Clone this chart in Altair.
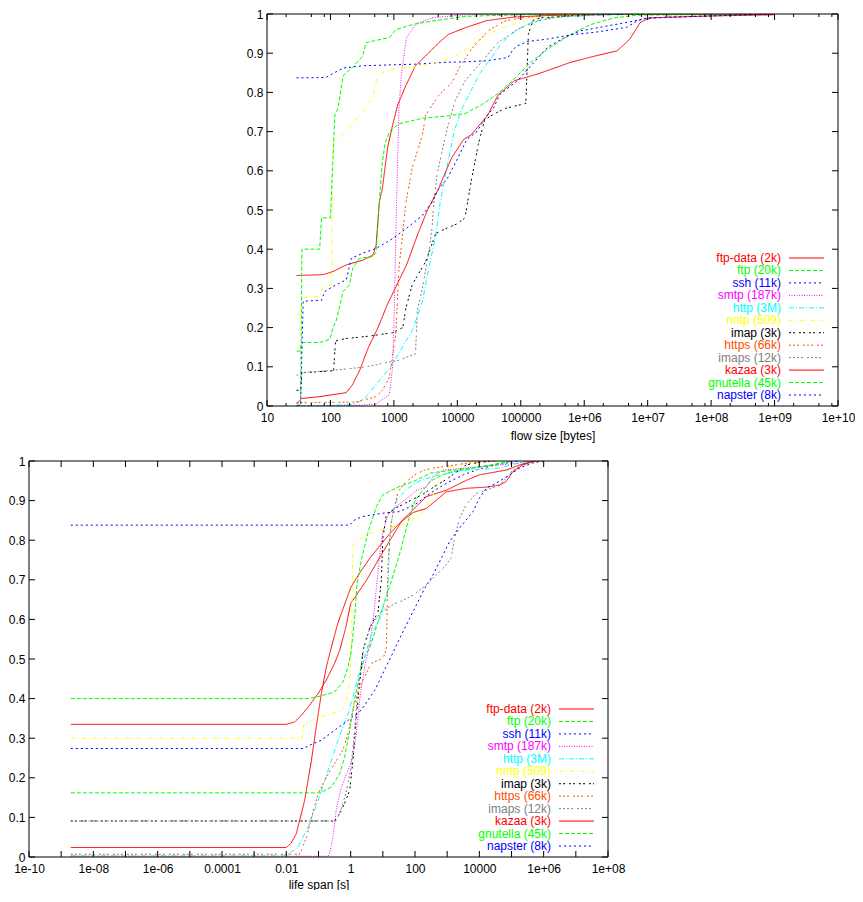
import altair as alt
import pandas as pd

FONT = "Liberation Sans"

SERIES = ["ftp-data (2k)", "ftp (20k)", "ssh (11k)", "smtp (187k)", "http (3M)", "nntp (509)",
          "imap (3k)", "https (66k)", "imaps (12k)", "kazaa (3k)", "gnutella (45k)", "napster (8k)"]
COLORS = ["#ff0000", "#00ff00", "#0000ff", "#ff00ff", "#00ffff", "#ffff00",
          "#000000", "#ff4d00", "#808080", "#ff0000", "#00ff00", "#0000ff"]
DASHES = [[1, 0], [4, 2], [2, 3], [1, 1.5], [5, 2, 1, 2], [4, 3, 1, 3],
          [2, 2, 2, 4], [2, 2, 2, 2, 2, 4], [2, 2, 2, 2, 2, 2, 2, 4], [1, 0], [4, 2], [2, 3]]

# ---------- flow size panel: x given as log10(bytes), y = CDF ----------
FS_FTPDATA_LX = [1.465, 1.885, 2.04, 2.25, 2.51, 2.67, 2.72, 2.77, 2.82, 2.9, 2.98, 3.06, 3.19, 3.34, 3.5, 3.71, 3.86, 4.125, 4.46, 4.88, 5.39, 6.5, 9.0]
FS_FTPDATA_Y = [0.333, 0.335, 0.343, 0.36, 0.372, 0.385, 0.41, 0.52, 0.557, 0.658, 0.717, 0.768, 0.818, 0.868, 0.893, 0.927, 0.948, 0.965, 0.983, 0.992, 0.996, 0.999, 1.0]
FS_FTP_LX = [1.465, 1.52, 1.55, 1.83, 1.99, 2.04, 2.09, 2.2, 2.3, 2.35, 2.46, 2.67, 2.72, 2.77, 2.81, 2.86, 2.93, 3.08, 3.45, 3.84, 4.12, 4.38, 4.64, 4.9, 5.16, 5.42, 5.79, 6.1, 6.47, 6.84, 9.0]
FS_FTP_Y = [0.14, 0.14, 0.162, 0.162, 0.17, 0.2, 0.217, 0.292, 0.309, 0.351, 0.377, 0.381, 0.393, 0.52, 0.61, 0.67, 0.70, 0.72, 0.734, 0.74, 0.746, 0.768, 0.797, 0.835, 0.877, 0.91, 0.948, 0.973, 0.99, 0.997, 1.0]
FS_SSH_LX = [1.465, 1.93, 2.06, 2.2, 2.51, 3.34, 3.84, 4.125, 4.48, 4.64, 4.8, 4.88, 4.95, 5.11, 5.42, 5.79, 6.15, 6.47, 6.67, 6.83, 6.94, 7.3, 9.0]
FS_SSH_Y = [0.837, 0.838, 0.85, 0.862, 0.868, 0.872, 0.877, 0.878, 0.881, 0.885, 0.889, 0.91, 0.919, 0.93, 0.936, 0.947, 0.953, 0.961, 0.966, 0.982, 0.988, 0.992, 1.0]
FS_SMTP_LX = [1.465, 2.5, 2.72, 2.93, 2.98, 3.01, 3.03, 3.055, 3.08, 3.12, 3.2, 3.35, 3.6, 4.1, 5.4]
FS_SMTP_Y = [0.0, 0.002, 0.005, 0.03, 0.1, 0.267, 0.435, 0.6, 0.76, 0.85, 0.94, 0.975, 0.99, 0.998, 1.0]
FS_HTTP_LX = [1.465, 2.3, 2.45, 2.56, 2.77, 2.98, 3.19, 3.29, 3.45, 3.55, 3.66, 3.73, 3.85, 3.95, 4.05, 4.2, 4.36, 4.5, 4.72, 4.95, 5.21, 5.47, 5.89, 7.0]
FS_HTTP_Y = [0.0, 0.003, 0.01, 0.023, 0.065, 0.107, 0.166, 0.192, 0.267, 0.351, 0.435, 0.52, 0.62, 0.7, 0.75, 0.8, 0.85, 0.88, 0.93, 0.961, 0.982, 0.99, 0.995, 1.0]
FS_NNTP_LX = [1.465, 1.53, 1.55, 1.83, 1.885, 2.02, 2.03, 2.07, 2.25, 2.56, 2.67, 2.74, 2.98, 3.33, 3.64, 3.95, 4.22, 4.4, 4.64, 5.0, 5.34, 6.0, 7.0]
FS_NNTP_Y = [0.234, 0.234, 0.276, 0.28, 0.305, 0.309, 0.66, 0.675, 0.70, 0.76, 0.788, 0.843, 0.86, 0.865, 0.875, 0.89, 0.919, 0.94, 0.961, 0.98, 0.99, 0.998, 1.0]
FS_IMAP_LX = [1.465, 1.53, 1.55, 2.05, 2.08, 2.24, 2.6, 2.98, 3.14, 3.19, 3.29, 3.5, 3.66, 3.81, 4.0, 4.12, 4.22, 4.33, 4.43, 4.59, 4.75, 5.08, 5.12, 5.2, 5.3, 6.0, 7.0]
FS_IMAP_Y = [0.04, 0.04, 0.085, 0.09, 0.166, 0.172, 0.178, 0.187, 0.2, 0.25, 0.31, 0.368, 0.44, 0.452, 0.465, 0.48, 0.575, 0.667, 0.73, 0.746, 0.759, 0.772, 0.95, 0.985, 0.99, 0.998, 1.0]
FS_HTTPS_LX = [1.465, 2.4, 2.72, 2.82, 2.93, 3.03, 3.08, 3.19, 3.29, 3.45, 3.5, 3.71, 3.92, 4.02, 4.22, 4.48, 4.75, 5.0, 5.5, 6.5]
FS_HTTPS_Y = [0.008, 0.01, 0.024, 0.04, 0.074, 0.183, 0.351, 0.52, 0.608, 0.692, 0.742, 0.793, 0.826, 0.86, 0.91, 0.957, 0.982, 0.99, 0.998, 1.0]
FS_IMAPS_LX = [1.465, 1.55, 2.04, 2.56, 3.08, 3.34, 3.37, 3.45, 3.55, 3.6, 3.63, 3.68, 3.76, 3.86, 3.97, 4.125, 4.33, 4.64, 4.95, 5.27, 5.6, 6.5]
FS_IMAPS_Y = [0.078, 0.085, 0.091, 0.1, 0.117, 0.133, 0.243, 0.301, 0.393, 0.452, 0.52, 0.59, 0.65, 0.72, 0.78, 0.83, 0.868, 0.927, 0.961, 0.982, 0.993, 1.0]
FS_KAZAA_LX = [1.465, 1.547, 1.833, 2.25, 2.35, 2.458, 2.6, 2.75, 2.9, 3.05, 3.2, 3.38, 3.53, 3.7, 3.91, 4.1, 4.22, 4.48, 4.64, 4.9, 5.27, 5.79, 6.2, 6.52, 6.72, 6.88, 7.03, 8.0, 9.0]
FS_KAZAA_Y = [0.005, 0.019, 0.024, 0.034, 0.055, 0.09, 0.15, 0.2, 0.26, 0.31, 0.36, 0.44, 0.5, 0.553, 0.633, 0.68, 0.692, 0.742, 0.793, 0.83, 0.847, 0.877, 0.894, 0.906, 0.936, 0.978, 0.99, 0.995, 0.998]
FS_GNUTELLA_LX = [1.465, 1.53, 1.55, 1.83, 1.86, 2.0, 2.07, 2.12, 2.2, 2.35, 2.51, 2.56, 2.93, 3.03, 3.29, 3.6, 4.125, 5.0, 6.0]
FS_GNUTELLA_Y = [0.0, 0.005, 0.40, 0.40, 0.48, 0.48, 0.743, 0.759, 0.843, 0.864, 0.893, 0.927, 0.94, 0.96, 0.973, 0.982, 0.994, 0.998, 1.0]
FS_NAPSTER_LX = [1.465, 1.53, 1.57, 1.86, 1.91, 2.04, 2.25, 2.33, 2.56, 2.72, 2.98, 3.19, 3.45, 3.6, 3.69, 3.84, 4.0, 4.15, 4.31, 4.46, 4.57, 4.67, 4.95, 5.16, 5.42, 5.69, 5.94, 6.72, 7.0, 9.0]
FS_NAPSTER_Y = [0.0, 0.005, 0.267, 0.27, 0.292, 0.305, 0.322, 0.377, 0.393, 0.402, 0.427, 0.452, 0.486, 0.52, 0.55, 0.58, 0.63, 0.68, 0.70, 0.74, 0.76, 0.795, 0.83, 0.868, 0.915, 0.94, 0.957, 0.98, 0.99, 1.0]

# ---------- life span panel: x given as log10(seconds), y = CDF ----------
LS_FTPDATA_LX = [-8.7, -2.0, -1.74, -1.53, -1.32, -1.01, -0.756, -0.5, -0.34, -0.15, 0.0, 0.5, 1.0, 1.3, 1.6, 1.83, 2.35, 2.97, 3.59, 4.0, 4.83, 5.25, 5.46, 5.7]
LS_FTPDATA_Y = [0.335, 0.335, 0.341, 0.358, 0.379, 0.413, 0.447, 0.489, 0.522, 0.58, 0.64, 0.70, 0.77, 0.81, 0.85, 0.868, 0.91, 0.926, 0.951, 0.965, 0.977, 0.99, 0.995, 1.0]
LS_FTP_LX = [-8.7, -1.0, -0.91, -0.6, -0.34, -0.186, -0.03, 0.12, 0.228, 0.33, 0.435, 0.6, 0.95, 1.26, 1.57, 1.78, 1.99, 2.2, 2.5, 3.0, 4.0, 5.0]
LS_FTP_Y = [0.162, 0.162, 0.163, 0.177, 0.21, 0.253, 0.32, 0.396, 0.438, 0.472, 0.505, 0.53, 0.619, 0.695, 0.779, 0.847, 0.897, 0.922, 0.95, 0.97, 0.985, 1.0]
LS_SSH_LX = [-8.7, -0.03, 0.1, 0.33, 0.75, 1.16, 1.5, 2.0, 2.5, 3.0, 3.5, 4.0, 4.5, 5.2]
LS_SSH_Y = [0.838, 0.838, 0.85, 0.859, 0.865, 0.87, 0.872, 0.89, 0.92, 0.945, 0.965, 0.98, 0.99, 1.0]
LS_SMTP_LX = [-8.7, -0.7, -0.65, -0.55, -0.45, -0.29, -0.08, 0.07, 0.176, 0.28, 0.435, 0.6, 0.7, 0.8, 0.9, 1.0, 1.16, 1.47, 1.88, 2.04, 2.35, 2.56, 2.87, 4.11, 5.14, 5.6]
LS_SMTP_Y = [0.002, 0.002, 0.01, 0.05, 0.118, 0.177, 0.219, 0.253, 0.312, 0.396, 0.48, 0.54, 0.6, 0.678, 0.762, 0.821, 0.864, 0.889, 0.914, 0.926, 0.934, 0.96, 0.977, 0.986, 0.994, 1.0]
LS_HTTP_LX = [-8.7, -2.1, -1.95, -1.64, -1.32, -1.01, -0.8, -0.6, -0.39, -0.24, -0.08, 0.07, 0.228, 0.435, 0.64, 0.95, 1.16, 1.21, 1.31, 1.47, 1.78, 2.2, 2.76, 3.59, 4.63, 4.94, 5.25, 5.6]
LS_HTTP_Y = [0.003, 0.003, 0.006, 0.025, 0.076, 0.143, 0.194, 0.244, 0.295, 0.329, 0.362, 0.404, 0.455, 0.505, 0.56, 0.61, 0.678, 0.805, 0.872, 0.906, 0.931, 0.952, 0.965, 0.977, 0.982, 0.99, 0.995, 1.0]
LS_NNTP_LX = [-8.7, -1.5, -1.46, -1.2, -0.9, -0.6, -0.34, -0.19, -0.08, -0.03, 0.02, 0.07, 0.33, 0.64, 0.95, 1.37, 1.78, 2.2, 2.56, 2.76, 3.07, 3.59, 4.0]
LS_NNTP_Y = [0.30, 0.30, 0.333, 0.345, 0.355, 0.362, 0.367, 0.379, 0.413, 0.455, 0.522, 0.788, 0.805, 0.817, 0.826, 0.834, 0.843, 0.868, 0.914, 0.956, 0.985, 0.995, 1.0]
LS_IMAP_LX = [-8.7, -0.5, -0.34, -0.19, -0.03, 0.07, 0.176, 0.28, 0.383, 0.6, 0.85, 0.95, 1.0, 1.11, 1.37, 1.78, 2.2, 2.6, 3.0, 3.3, 3.59, 4.0, 4.5]
LS_IMAP_Y = [0.091, 0.091, 0.11, 0.135, 0.169, 0.244, 0.354, 0.438, 0.522, 0.58, 0.619, 0.695, 0.805, 0.864, 0.88, 0.897, 0.914, 0.935, 0.955, 0.973, 0.99, 0.997, 1.0]
LS_HTTPS_LX = [-8.7, -1.6, -1.53, -1.37, -1.22, -1.01, -0.755, -0.5, -0.24, -0.08, 0.02, 0.12, 0.33, 0.64, 0.95, 1.05, 1.11, 1.16, 1.26, 1.47, 1.68, 1.99, 2.3, 2.56, 3.59, 4.5]
LS_HTTPS_Y = [0.007, 0.007, 0.017, 0.05, 0.10, 0.16, 0.202, 0.236, 0.27, 0.312, 0.354, 0.388, 0.438, 0.489, 0.5, 0.51, 0.527, 0.737, 0.847, 0.922, 0.944, 0.965, 0.977, 0.982, 0.994, 1.0]
LS_IMAPS_LX = [-8.7, -0.45, -0.3, -0.15, 0.0, 0.1, 0.2, 0.3, 0.435, 0.64, 0.95, 1.37, 1.52, 1.94, 2.35, 2.87, 3.12, 3.23, 3.38, 3.59, 3.9, 4.21, 4.63, 4.83, 5.04, 5.35, 5.66]
LS_IMAPS_Y = [0.091, 0.091, 0.12, 0.16, 0.22, 0.3, 0.4, 0.47, 0.543, 0.586, 0.619, 0.64, 0.644, 0.661, 0.687, 0.729, 0.754, 0.805, 0.855, 0.889, 0.918, 0.926, 0.939, 0.956, 0.977, 0.99, 1.0]
LS_KAZAA_LX = [-8.7, -2.0, -1.85, -1.69, -1.43, -1.22, -1.07, -0.91, -0.755, -0.6, -0.4, -0.2, 0.0, 0.3, 0.6, 0.95, 1.2, 1.52, 1.94, 2.35, 2.97, 3.59, 4.21, 4.63, 4.83, 5.04, 5.35, 5.66, 5.9]
LS_KAZAA_Y = [0.024, 0.024, 0.035, 0.059, 0.143, 0.244, 0.329, 0.413, 0.48, 0.53, 0.59, 0.635, 0.68, 0.72, 0.755, 0.79, 0.815, 0.843, 0.870, 0.88, 0.922, 0.931, 0.934, 0.939, 0.948, 0.973, 0.99, 0.998, 1.0]
LS_GNUTELLA_LX = [-8.7, -1.3, -0.91, -0.5, -0.24, -0.08, 0.02, 0.12, 0.2, 0.33, 0.54, 0.8, 1.0, 1.5, 2.0, 2.5, 3.5, 4.5, 5.0]
LS_GNUTELLA_Y = [0.40, 0.40, 0.407, 0.417, 0.442, 0.48, 0.522, 0.6, 0.69, 0.75, 0.82, 0.885, 0.915, 0.935, 0.95, 0.97, 0.98, 0.99, 1.0]
LS_NAPSTER_LX = [-8.7, -1.48, -1.2, -0.91, -0.5, -0.08, 0.33, 0.75, 1.05, 1.31, 1.47, 1.78, 2.09, 2.3, 2.56, 3.07, 3.38, 3.8, 4.0, 4.21, 4.52, 4.94, 5.25, 5.66, 6.0]
LS_NAPSTER_Y = [0.274, 0.274, 0.285, 0.295, 0.32, 0.345, 0.371, 0.421, 0.472, 0.515, 0.543, 0.594, 0.644, 0.678, 0.712, 0.796, 0.83, 0.872, 0.906, 0.931, 0.944, 0.965, 0.982, 0.995, 1.0]

# ---------- axes ----------
Y_TICKS = [0, 0.1, 0.2, 0.3, 0.4, 0.5, 0.6, 0.7, 0.8, 0.9, 1.0]
FLOW_LABEL_EXP = [1, 2, 3, 4, 5, 6, 7, 8, 9, 10]
FLOW_TICK_LABELS = ["10", "100", "1000", "10000", "100000", "1e+06", "1e+07", "1e+08", "1e+09", "1e+10"]
FLOW_MINOR_MANT = [2, 5, 8]
LIFE_LABEL_EXP = [-10, -8, -6, -4, -2, 0, 2, 4, 6, 8]
LIFE_TICK_LABELS = ["1e-10", "1e-08", "1e-06", "0.0001", "0.01", "1", "100", "10000", "1e+06", "1e+08"]
LIFE_TICK_EXP = list(range(-10, 9))

FLOW_LX = [FS_FTPDATA_LX, FS_FTP_LX, FS_SSH_LX, FS_SMTP_LX, FS_HTTP_LX, FS_NNTP_LX,
           FS_IMAP_LX, FS_HTTPS_LX, FS_IMAPS_LX, FS_KAZAA_LX, FS_GNUTELLA_LX, FS_NAPSTER_LX]
FLOW_Y = [FS_FTPDATA_Y, FS_FTP_Y, FS_SSH_Y, FS_SMTP_Y, FS_HTTP_Y, FS_NNTP_Y,
          FS_IMAP_Y, FS_HTTPS_Y, FS_IMAPS_Y, FS_KAZAA_Y, FS_GNUTELLA_Y, FS_NAPSTER_Y]
LIFE_LX = [LS_FTPDATA_LX, LS_FTP_LX, LS_SSH_LX, LS_SMTP_LX, LS_HTTP_LX, LS_NNTP_LX,
           LS_IMAP_LX, LS_HTTPS_LX, LS_IMAPS_LX, LS_KAZAA_LX, LS_GNUTELLA_LX, LS_NAPSTER_LX]
LIFE_Y = [LS_FTPDATA_Y, LS_FTP_Y, LS_SSH_Y, LS_SMTP_Y, LS_HTTP_Y, LS_NNTP_Y,
          LS_IMAP_Y, LS_HTTPS_Y, LS_IMAPS_Y, LS_KAZAA_Y, LS_GNUTELLA_Y, LS_NAPSTER_Y]


def frame(lxs, ys):
    rows = []
    for k, (name, lx, yv) in enumerate(zip(SERIES, lxs, ys)):
        for i, (a, b) in enumerate(zip(lx, yv)):
            rows.append({"series": name, "k": k, "i": i, "x": 10.0 ** a, "y": b})
    return pd.DataFrame(rows)


TICK = 6
MINOR = 3


def panel(df, xdomain, label_vals, label_expr, title, majors, minors, W, H, x0=0, title_pad=5):
    """One gnuplot-like panel; the plot box occupies [x0, x0+W] inside a view of width x0+W."""
    xs = alt.Scale(type="log", domain=xdomain, nice=False, range=[x0, x0 + W])
    ys = alt.Scale(domain=[0, 1], nice=False, zero=False)
    common = dict(ticks=False, domain=False, grid=False, labelFont=FONT, labelFontSize=12,
                  labelColor="black", titleFont=FONT, titleFontSize=12, titleColor="black",
                  titleFontWeight="normal", labelOverlap=False, labelFlush=False)
    xax = alt.Axis(values=label_vals, labelExpr=label_expr, title=title,
                   labelPadding=6, titlePadding=title_pad, **common)
    yax = alt.Axis(values=Y_TICKS, format="~g", title=None, labelPadding=4, offset=-x0, **common)
    color = alt.Color("series:N", scale=alt.Scale(domain=SERIES, range=COLORS), legend=None)
    dash = alt.StrokeDash("series:N", scale=alt.Scale(domain=SERIES, range=DASHES), legend=None)

    lines = alt.Chart(df).mark_line(strokeWidth=1, clip=True).encode(
        x=alt.X("x:Q", scale=xs, axis=xax),
        y=alt.Y("y:Q", scale=ys, axis=yax),
        color=color, strokeDash=dash, order="i:Q")

    ytk = pd.DataFrame({"y": Y_TICKS})
    yl = alt.Chart(ytk).mark_rule(color="black", strokeWidth=1).encode(
        y=alt.Y("y:Q", scale=ys, axis=yax), x=alt.value(x0), x2=alt.value(x0 + TICK))
    yr = alt.Chart(ytk).mark_rule(color="black", strokeWidth=1).encode(
        y=alt.Y("y:Q", scale=ys, axis=yax), x=alt.value(x0 + W - TICK), x2=alt.value(x0 + W))
    layers = [lines, yl, yr]
    for vals, ln in ((majors, TICK), (minors, MINOR)):
        if not vals:
            continue
        tdf = pd.DataFrame({"x": vals})
        layers.append(alt.Chart(tdf).mark_rule(color="black", strokeWidth=1).encode(
            x=alt.X("x:Q", scale=xs, axis=xax), y=alt.value(H), y2=alt.value(H - ln)))
        layers.append(alt.Chart(tdf).mark_rule(color="black", strokeWidth=1).encode(
            x=alt.X("x:Q", scale=xs, axis=xax), y=alt.value(0), y2=alt.value(ln)))
    inner = alt.layer(*layers)

    leg = pd.DataFrame({"series": SERIES})
    ly = alt.Y("series:N", sort=SERIES,
               scale=alt.Scale(type="point", range=[H - 148, H - 11], padding=0), axis=None)
    ltext = alt.Chart(leg).mark_text(align="right", baseline="middle", font=FONT, fontSize=12).encode(
        y=ly, x=alt.value(x0 + W - 57), text="series:N", color=color)
    lline = alt.Chart(leg).mark_rule(strokeWidth=1).encode(
        y=ly, x=alt.value(x0 + W - 49), x2=alt.value(x0 + W - 14), color=color, strokeDash=dash)
    border = alt.Chart(pd.DataFrame({"v": [0]})).mark_rect(
        filled=False, stroke="black", strokeWidth=1).encode(
        x=alt.value(x0), x2=alt.value(x0 + W), y=alt.value(0), y2=alt.value(H))
    legend = alt.layer(ltext, lline, border)

    return alt.layer(inner, legend).resolve_scale(y="independent").properties(width=x0 + W, height=H)


flow_df = frame(FLOW_LX, FLOW_Y)
life_df = frame(LIFE_LX, LIFE_Y)

flow_expr = "[" + ",".join("'%s'" % s for s in FLOW_TICK_LABELS) + "][round(log(datum.value)/LN10) - 1]"
life_expr = "[" + ",".join("'%s'" % s for s in LIFE_TICK_LABELS) + "][round((log(datum.value)/LN10 + 10)/2)]"

flow_majors = [10.0 ** e for e in FLOW_LABEL_EXP]
flow_minors = [m * 10.0 ** e for e in FLOW_LABEL_EXP[:-1] for m in FLOW_MINOR_MANT]
life_majors = [10.0 ** e for e in LIFE_TICK_EXP]

top_panel = panel(flow_df, [10, 1e10], [10.0 ** e for e in FLOW_LABEL_EXP], flow_expr,
                  "flow size [bytes]", flow_majors, flow_minors, 571, 392, x0=238, title_pad=7)
bottom_panel = panel(life_df, [1e-10, 1e8], [10.0 ** e for e in LIFE_LABEL_EXP], life_expr,
                     "life span [s]", life_majors, [], 579, 396)

chart = alt.vconcat(top_panel, bottom_panel, spacing=14).properties(
    padding={"left": 0, "top": 0, "right": 0, "bottom": 0}
).configure_view(strokeWidth=0)

chart.save("out.html", embed_options={"renderer": "svg", "actions": False})
